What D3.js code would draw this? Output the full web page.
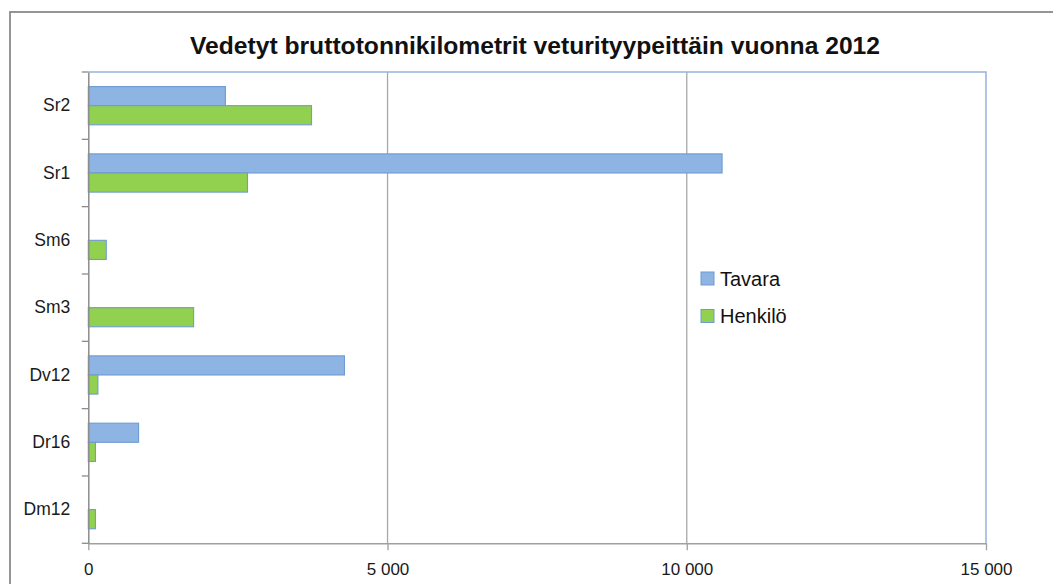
<!DOCTYPE html>
<html><head><meta charset="utf-8">
<script src="https://cdn.jsdelivr.net/npm/d3@7"></script>
<style>
html,body{margin:0;padding:0;background:#fff;overflow:hidden;}
svg{display:block;}
text{font-family:"Liberation Sans",Arial,sans-serif;}
</style></head>
<body>
<svg id="chart" width="1053" height="584"></svg>
<script>
const categories = ["Sr2","Sr1","Sm6","Sm3","Dv12","Dr16","Dm12"];
const seriesNames = ["Tavara","Henkilö"];
const tavara  = [2290, 10590, 0, 0, 4280, 840, 0];
const henkilo = [3730, 2660, 300, 1760, 160, 120, 120];
const xTicks = [0, 5000, 10000, 15000];
const xTickLabels = ["0","5 000","10 000","15 000"];
const title = "Vedetyt bruttotonnikilometrit veturityypeittäin vuonna 2012";
const colors = {"Tavara":"#8DB4E2","Henkilö":"#92D050"};

const svg = d3.select("#chart");
const L = 88.3, R = 986, T = 72, B = 543.3;

// outer frame
svg.append("rect").attr("x",10).attr("y",12).attr("width",1070).attr("height",620)
  .attr("fill","#fff").attr("stroke","#8a8a8a").attr("stroke-width",1.8);

const x = d3.scaleLinear().domain([0,15000]).range([L,R]);
const y = d3.scaleBand().domain(categories).range([T,B]).padding(0);
const ys = d3.scaleBand().domain(seriesNames).range([0,y.bandwidth()]).paddingInner(0).paddingOuter(0.76);

// gridlines
svg.append("g").selectAll("line").data(xTicks.slice(1,-1)).join("line")
  .attr("x1",d=>x(d)).attr("x2",d=>x(d)).attr("y1",T).attr("y2",B)
  .attr("stroke","#a8a8a8").attr("stroke-width",1.3);

// plot border top/right (light blue)
svg.append("path").attr("d",`M${L},${T}H${R}V${B}`).attr("fill","none")
  .attr("stroke","#95B3D7").attr("stroke-width",1.5);

// bars
const rows = categories.map((c,i)=>({c, vals:[{s:"Tavara",v:tavara[i]},{s:"Henkilö",v:henkilo[i]}]}));
const g = svg.append("g");
rows.forEach(r=>{
  r.vals.forEach(d=>{
    if(d.v<=0) return;
    g.append("rect")
      .attr("x",x(0)).attr("y",y(r.c)+ys(d.s))
      .attr("width",x(d.v)-x(0)).attr("height",ys.bandwidth())
      .attr("fill",colors[d.s]).attr("stroke","#6E9BD3").attr("stroke-width",1.1);
  });
});

// x axis
const xAxis = d3.axisBottom(x).tickValues(xTicks).tickSize(7).tickSizeOuter(0)
  .tickFormat((d,i)=>xTickLabels[i]);
const gx = svg.append("g").attr("transform",`translate(0,${B})`).call(xAxis);
gx.select(".domain").attr("stroke","#a0a0a0").attr("stroke-width",1.5);
gx.selectAll(".tick line").attr("stroke","#a0a0a0").attr("stroke-width",1.3);
gx.selectAll(".tick text").attr("font-size",17).attr("fill","#1a1a1a").attr("dy",0).attr("y",32)
  .attr("font-family","Liberation Sans, Arial, sans-serif");

// y axis
const yAxis = d3.axisLeft(y).tickSize(0).tickPadding(18);
const gy = svg.append("g").attr("transform",`translate(${L},0)`).call(yAxis);
gy.select(".domain").attr("stroke","#8c8c8c").attr("stroke-width",1.5);
gy.selectAll(".tick text").attr("font-size",17.5).attr("fill","#1a1a1a")
  .attr("font-family","Liberation Sans, Arial, sans-serif");
// category boundary ticks
const bounds = categories.map(c=>y(c)).concat([B]);
svg.append("g").selectAll("line").data(bounds).join("line")
  .attr("x1",L-6.5).attr("x2",L).attr("y1",d=>d).attr("y2",d=>d)
  .attr("stroke","#8c8c8c").attr("stroke-width",1.3);

// title
svg.append("text").attr("x",535).attr("y",54).attr("text-anchor","middle")
  .attr("font-size",23).attr("font-weight","bold").attr("fill","#111")
  .attr("textLength",690).attr("lengthAdjust","spacingAndGlyphs").text(title);

// legend
const leg = svg.append("g");
seriesNames.forEach((s,i)=>{
  const yy = 272 + i*37.5;
  leg.append("rect").attr("x",701).attr("y",yy).attr("width",13).attr("height",13)
    .attr("fill",colors[s]).attr("stroke","#6E9BD3").attr("stroke-width",1);
  leg.append("text").attr("x",720).attr("y",yy+13.5).attr("font-size",20).attr("fill","#111").text(s);
});
</script>
</body></html>
